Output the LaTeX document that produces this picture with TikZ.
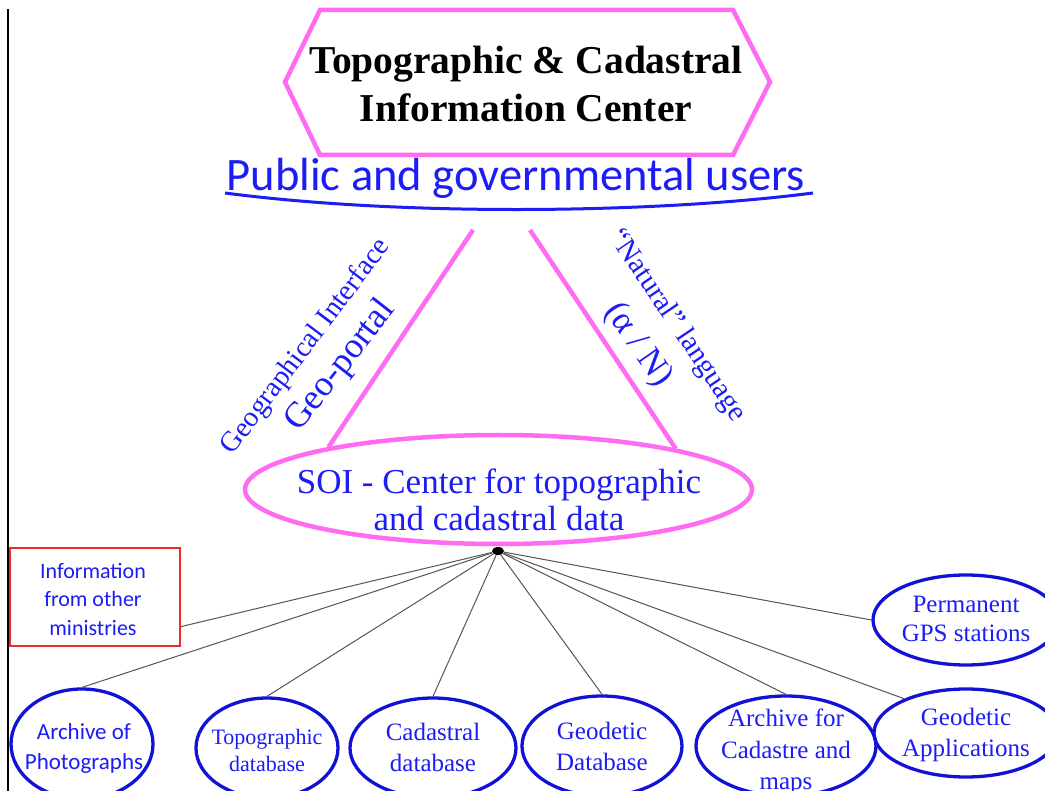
\documentclass[tikz,border=0pt]{standalone}
\usepackage{fontspec}
\setmainfont{Liberation Serif}
\newfontfamily\carlito{Carlito}
\usetikzlibrary{shapes.geometric,calc}
\definecolor{pinkc}{RGB}{255,108,242}
\definecolor{bluet}{RGB}{28,28,245}
\definecolor{blueo}{RGB}{18,18,215}
\definecolor{redb}{RGB}{238,42,42}
\definecolor{linec}{RGB}{85,85,85}
\tikzset{
  pinkline/.style={draw=pinkc, line width=4.5pt},
  dbell/.style={ellipse, draw=blueo, line width=3.3pt, inner sep=0pt},
  dbtxt/.style={text=bluet, align=center, inner sep=0pt, font=\fontsize{25}{31}\selectfont},
  sanstxt/.style={text=bluet, align=center, inner sep=0pt, font=\carlito\fontsize{23}{30}\selectfont},
  rottxt/.style={text=bluet, inner sep=0pt},
  conn/.style={draw=linec, line width=1pt},
}
\begin{document}
\begin{tikzpicture}[x=1pt,y=-1pt]
\useasboundingbox (0,0) rectangle (1045,791);
\clip (0,0) rectangle (1045,791);
\fill[white] (0,0) rectangle (1045,791);
% left frame line
\draw[black, line width=1.4pt] (8,9) -- (8,791);

% title hexagon
\node[inner sep=0pt, align=center, font=\bfseries\fontsize{39.5}{48}\selectfont] (title) at (526,84)
  {Topographic \& Cadastral\\Information Center};
\draw[pinkline, line join=miter] (285,82) -- (320,10) -- (733,10) -- (770,82) -- (733,155) -- (320,155) -- cycle;

% public users
\node[anchor=base, inner sep=0pt, text=bluet, font=\carlito\fontsize{46.5}{50}\selectfont] (pub) at (516,191)
  {Public and governmental users};
\draw[draw=bluet, line width=3pt] (225,193) .. controls (400,216) and (650,214) .. (813,193);

% SOI ellipse
\node[ellipse, draw=pinkc, line width=4.5pt, minimum width=507, minimum height=109, inner sep=0pt] (soi) at (498.5,489.5) {};
\node[text=bluet, align=center, inner sep=0pt, font=\fontsize{35}{37}\selectfont] (soitxt) at (499,500)
  {SOI - Center for topographic\\and cadastral data};

% triangle lines
\coordinate (ta) at (473,230);
\coordinate (tb) at (530,230);
\draw[pinkline] (ta) -- (soi.166.5);
\draw[pinkline] (tb) -- (soi.13.5);

% rotated labels
\node[rottxt, rotate=53, font=\fontsize{28.5}{30}\selectfont] (geoint) at (306,347) {Geographical Interface};
\node[rottxt, rotate=52, font=\fontsize{36}{38}\selectfont] (geoportal) at (341,366) {Geo-portal};
\node[rottxt, rotate=-56, font=\fontsize{29}{31}\selectfont] (natural) at (677,326) {“Natural” language};
\node[rottxt, rotate=-55, font=\fontsize{35}{38}\selectfont] (alphan) at (638,345) {(α / N)};

% hub
\node[ellipse, fill=black, minimum width=12, minimum height=8, inner sep=0pt] (hub) at (498,551) {};

% info box
\node[draw=redb, line width=2pt, minimum width=170, minimum height=97, inner sep=0pt] (info) at (95,597) {};
\node[sanstxt, font=\carlito\fontsize{22}{28.5}\selectfont] (infotxt) at (93,599) {Information\\from other\\ministries};

% bottom ellipses
\node[dbell, minimum width=142, minimum height=110] (photo) at (82,744) {};
\node[sanstxt] (phototxt) at (84,748) {Archive of\\Photographs};
\node[dbell, minimum width=142, minimum height=100] (topo) at (267,748) {};
\node[dbtxt, font=\fontsize{22}{27}\selectfont] (topotxt) at (267,750) {Topographic\\database};
\node[dbell, minimum width=166, minimum height=100] (cad) at (433,748) {};
\node[dbtxt] (cadtxt) at (433,747) {Cadastral\\database};
\node[dbell, minimum width=160, minimum height=100] (geod) at (602,746) {};
\node[dbtxt] (geodtxt) at (602,746) {Geodetic\\Database};
\node[dbell, minimum width=180, minimum height=100] (arch) at (786,746) {};
\node[dbtxt, font=\fontsize{25}{31.5}\selectfont] (archtxt) at (786,752) {Archive for\\Cadastre and\\maps};
\node[dbell, minimum width=184, minimum height=88] (gapp) at (966,733) {};
\node[dbtxt] (gapptxt) at (966,735) {Geodetic\\Applications};
\node[dbell, minimum width=186, minimum height=90] (gps) at (966,620) {};
\node[dbtxt, font=\fontsize{25}{29}\selectfont] (gpstxt) at (966,619) {Permanent\\GPS stations};

% connectors
\draw[conn] (hub) -- (info.-19);
\draw[conn] (hub) -- (photo.north);
\draw[conn] (hub) -- (topo.north);
\draw[conn] (hub) -- (cad.north);
\draw[conn] (hub) -- (geod.north);
\draw[conn] (hub) -- (arch.north);
\draw[conn] (hub) -- (gapp.151);
\draw[conn] (hub) -- (gps.west);
\end{tikzpicture}
\end{document}
